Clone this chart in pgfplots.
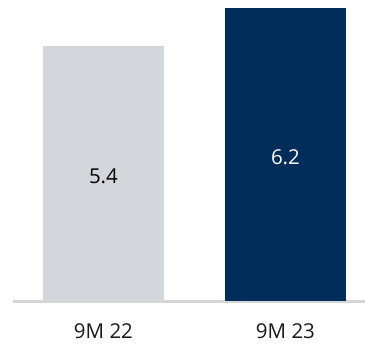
\documentclass[border=0pt]{standalone}
\usepackage{fontspec}
\setmainfont{Open Sans}
\usepackage{pgfplots}
\pgfplotsset{compat=1.18}
\definecolor{barGray}{HTML}{D3D7DB}
\definecolor{barNavy}{HTML}{002D5A}
\definecolor{axisGray}{HTML}{D6D6D6}
\begin{document}
\fontsize{20.5bp}{24bp}\selectfont
\begin{tikzpicture}
\begin{axis}[
  at={(13bp,46.5bp)}, anchor=south west,
  scale only axis,
  width=352bp, height=300.5bp,
  xmin=-0.497, xmax=1.437,
  ymin=0, ymax=6.38,
  axis y line=none,
  axis x line*=bottom,
  x axis line style={draw=axisGray, line width=2bp, -, yshift=-1bp},
  xtick={0,1},
  xticklabels={9M 22, 9M 23},
  major tick length=0pt,
  xticklabel style={anchor=center, yshift=-31bp, text=black!90},
  /pgf/number format/assume math mode=true,
  ytick=\empty,
  clip=false,
  ybar, bar width=121bp, bar shift=0pt,
  nodes near coords,
  /pgf/number format/fixed,
  /pgf/number format/fixed zerofill,
  /pgf/number format/precision=1,
  visualization depends on={rawy \as \rawy},
  every node near coord/.append style={anchor=center, yshift=-\rawy*47.1bp/2-3bp},
]
\addplot[fill=barGray, draw=none, nodes near coords style={text=black}] coordinates {(0,5.4)};
\addplot[fill=barNavy, draw=none, nodes near coords style={text=white}] coordinates {(1,6.2)};
\end{axis}
\pgfresetboundingbox
\path[use as bounding box] (0,0) rectangle (365bp,347bp);
\end{tikzpicture}
\end{document}
